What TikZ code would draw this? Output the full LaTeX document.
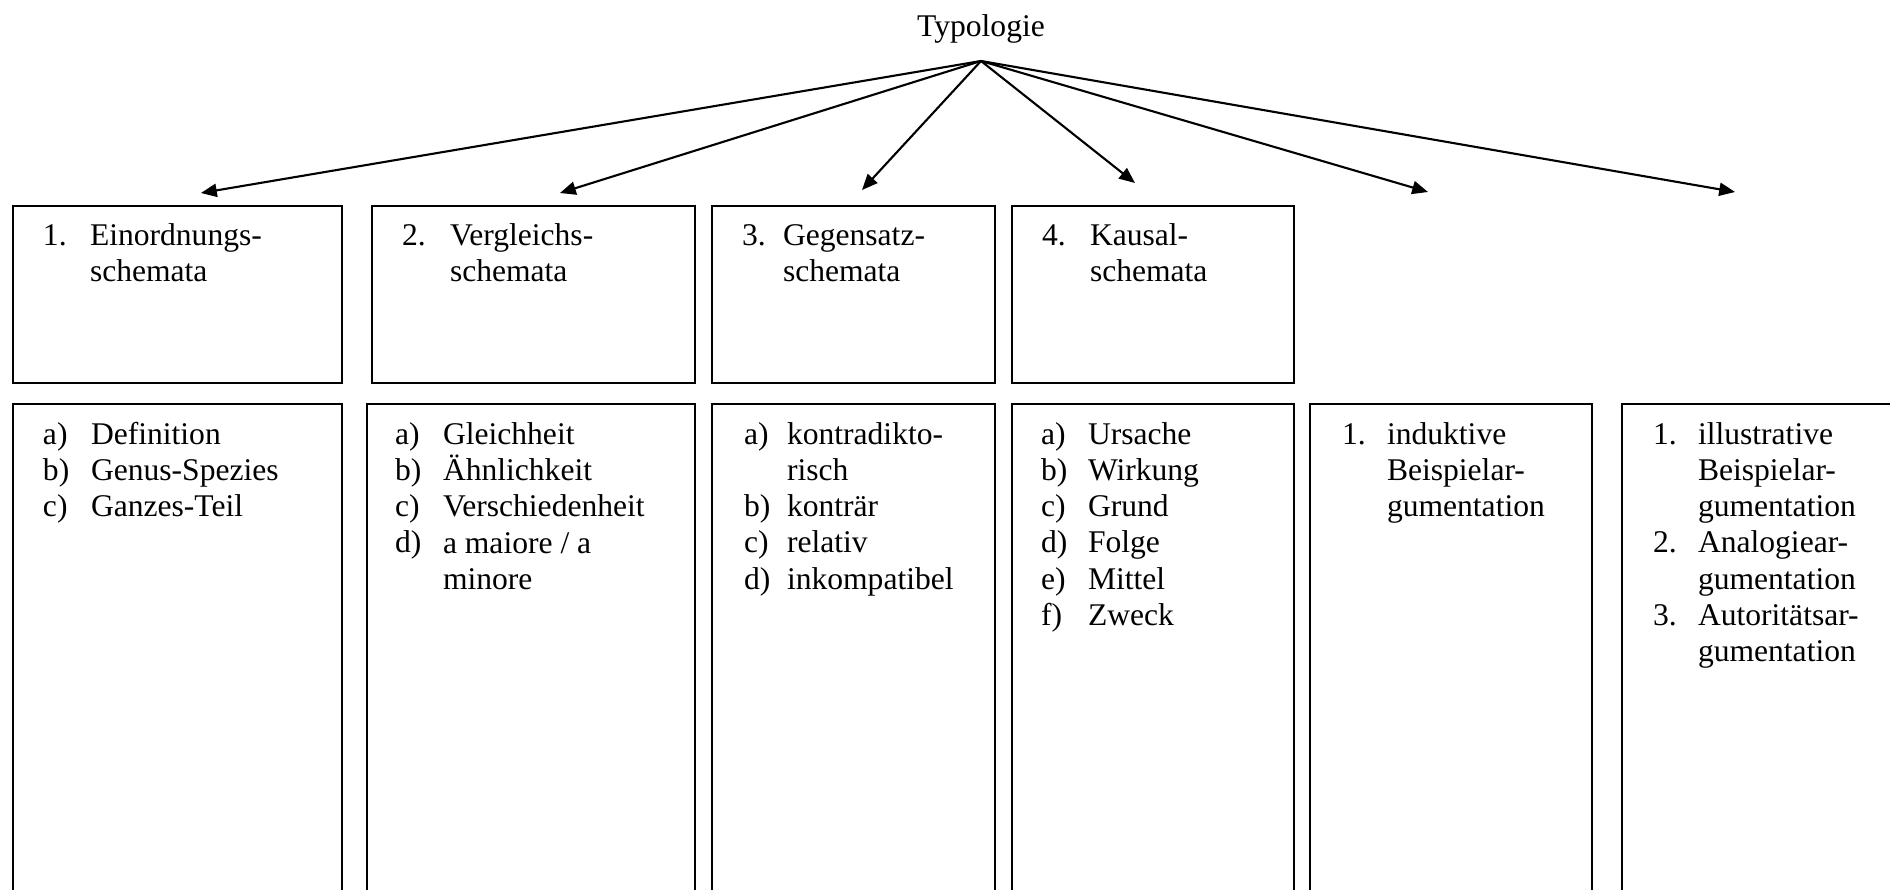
\documentclass[tikz,border=0pt]{standalone}
\usepackage{fontspec}
\setmainfont{Liberation Serif}
\usetikzlibrary{arrows.meta}
\newcommand{\mycol}[3]{\node[colst] (#1) at (#2) {\begin{tabular}[t]{@{}l@{}}#3\end{tabular}};}
\begin{document}
\begin{tikzpicture}[x=0.38pt,y=-0.38pt,
  boxst/.style={draw, line width=0.5pt, rectangle, inner sep=0pt, outer sep=0pt, anchor=north west},
  colst/.style={anchor=base west, inner sep=0pt, outer sep=0pt, font=\fontsize{12}{13.8}\selectfont},
  arr/.style={line width=0.8pt, -{Triangle[length=6pt,width=5pt]}}]
\useasboundingbox (0,0) rectangle (1890,890);
\clip (0,0) rectangle (1890,890);

% title
\node[colst, anchor=base] (typ) at (981,37) {Typologie};
\coordinate (apex) at (981,61);
\coordinate (e1) at (201,193);
\coordinate (e2) at (560,193);
\coordinate (e3) at (862,190);
\coordinate (e4) at (1135,183);
\coordinate (e5) at (1428,192);
\coordinate (e6) at (1735,192);
\foreach \i in {1,...,6} \draw[arr] (apex) -- (e\i);

% top row boxes
\node[boxst, minimum width=329*0.38pt, minimum height=177*0.38pt] (b1) at (13,206) {};
\node[boxst, minimum width=323*0.38pt, minimum height=177*0.38pt] (b2) at (372,206) {};
\node[boxst, minimum width=283*0.38pt, minimum height=177*0.38pt] (b3) at (712,206) {};
\node[boxst, minimum width=282*0.38pt, minimum height=177*0.38pt] (b4) at (1012,206) {};

% bottom row boxes
\node[boxst, minimum width=329*0.38pt, minimum height=520*0.38pt] (c1) at (13,404) {};
\node[boxst, minimum width=328*0.38pt, minimum height=520*0.38pt] (c2) at (367,404) {};
\node[boxst, minimum width=283*0.38pt, minimum height=520*0.38pt] (c3) at (712,404) {};
\node[boxst, minimum width=282*0.38pt, minimum height=520*0.38pt] (c4) at (1012,404) {};
\node[boxst, minimum width=282*0.38pt, minimum height=520*0.38pt] (c5) at (1310,404) {};
\node[boxst, minimum width=300*0.38pt, minimum height=520*0.38pt] (c6) at (1622,404) {};

% top row texts
\mycol{t1l}{43,245}{1.}
\mycol{t1t}{90,245}{Einordnungs-\\schemata}
\mycol{t2l}{402,245}{2.}
\mycol{t2t}{450,245}{Vergleichs-\\schemata}
\mycol{t3l}{742,245}{3.}
\mycol{t3t}{783,245}{Gegensatz-\\schemata}
\mycol{t4l}{1042,245}{4.}
\mycol{t4t}{1090,245}{Kausal-\\schemata}

% bottom row texts
\mycol{c1l}{43,444}{a)\\b)\\c)}
\mycol{c1t}{91,444}{Definition\\Genus-Spezies\\Ganzes-Teil}
\mycol{c2l}{395,444}{a)\\b)\\c)\\d)}
\mycol{c2t}{443,444}{Gleichheit\\Ähnlichkeit\\Verschiedenheit\\a maiore / a\\minore}
\mycol{c3l}{744,444}{a)\\ \\b)\\c)\\d)}
\mycol{c3t}{787,444}{kontradikto-\\risch\\konträr\\relativ\\inkompatibel}
\mycol{c4l}{1041,444}{a)\\b)\\c)\\d)\\e)\\f)}
\mycol{c4t}{1088,444}{Ursache\\Wirkung\\Grund\\Folge\\Mittel\\Zweck}
\mycol{c5l}{1342,444}{1.}
\mycol{c5t}{1387,444}{induktive\\Beispielar-\\gumentation}
\mycol{c6l}{1653,444}{1.\\ \\ \\2.\\ \\3.}
\mycol{c6t}{1698,444}{illustrative\\Beispielar-\\gumentation\\Analogiear-\\gumentation\\Autoritätsar-\\gumentation}
\end{tikzpicture}
\end{document}
